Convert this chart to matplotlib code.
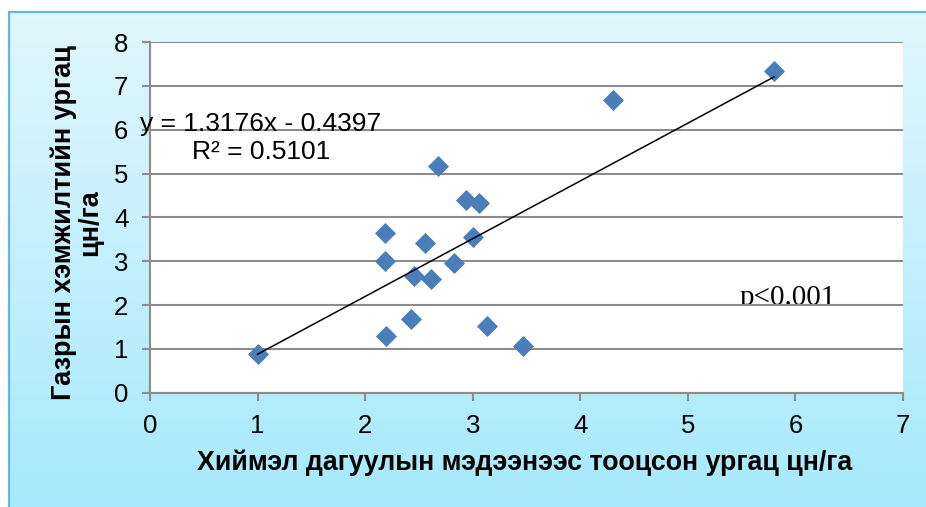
import numpy as np
import matplotlib
matplotlib.use("Agg")
import matplotlib.pyplot as plt
from matplotlib.lines import Line2D
from matplotlib.transforms import Bbox, TransformedBbox

plt.rcParams["font.family"] = ["Liberation Sans", "DejaVu Sans"]

# satellite-based yield vs field-measured yield (цн/га)
sat_yield = [1.00, 2.18, 2.18, 2.19, 2.43, 2.45, 2.56, 2.61, 2.68, 2.83,
             2.94, 3.06, 3.00, 3.13, 3.47, 4.30, 5.80]
field_yield = [0.88, 3.65, 3.01, 1.30, 1.68, 2.67, 3.42, 2.60, 5.18, 2.95,
               4.40, 4.33, 3.56, 1.52, 1.07, 6.68, 7.34]
slope, intercept = 1.3176, -0.4397
eq_text = "y = 1.3176x - 0.4397"
r2_text = "R² = 0.5101"
p_text = "p<0.001"
x_ticks = [0, 1, 2, 3, 4, 5, 6, 7]
y_ticks = [0, 1, 2, 3, 4, 5, 6, 7, 8]
xlabel = "Хиймэл дагуулын мэдээнээс тооцсон ургац цн/га"
ylabel = "Газрын хэмжилтийн ургац\nцн/га"

W, H = 926, 507
fig = plt.figure(figsize=(W / 100, H / 100), dpi=100)
fig.patch.set_facecolor("white")

# light blue gradient frame behind the chart (runs off the right and bottom edges)
fx0, fy0 = 9 / W, 1 - 12 / H
bg = fig.add_axes([fx0, 0, 1 - fx0, fy0], zorder=-1)
bg.axis("off")
grad = np.linspace(0, 1, 256).reshape(-1, 1)
top = np.array([0.882, 0.965, 0.992])
bot = np.array([0.655, 0.914, 0.992])
img = top + (bot - top) * grad[:, :, None]
bg.imshow(img, extent=[0, 1, 0, 1], aspect="auto", origin="upper")
bg.set_xlim(0, 1)
bg.set_ylim(0, 1)
fig.add_artist(Line2D([fx0, fx0, 1], [0, fy0, fy0], transform=fig.transFigure,
                      color="#5bbcd4", lw=1.6))

ax = fig.add_axes([150 / W, 1 - 392.7 / H, 753 / W, 350.7 / H])
ax.set_facecolor("white")
ax.set_xlim(0, 7)
ax.set_ylim(0, 8)
ax.set_xticks(x_ticks)
ax.set_yticks(y_ticks)
ax.set_axisbelow(True)
ax.grid(axis="y", color="#8c8c8c", lw=1.5)
for s in ["top", "right"]:
    ax.spines[s].set_visible(False)
for s in ["left", "bottom"]:
    ax.spines[s].set_color("#8c8c8c")
    ax.spines[s].set_linewidth(1.5)
ax.tick_params(axis="both", colors="#8c8c8c", labelcolor="black", width=1.5,
               length=5.5, labelsize=18.5)
ax.tick_params(axis="x", pad=10)
ax.tick_params(axis="y", pad=10)

ax.scatter(sat_yield, field_yield, marker="D", s=115, color="#4a7ebb", zorder=3,
           linewidths=0)
xs = np.array([min(sat_yield), max(sat_yield)])
ax.plot(xs, slope * xs + intercept, color="black", lw=1.1, zorder=4)

ax.text(1.03, 6.13, eq_text, ha="center", va="center", fontsize=19, zorder=5)
ax.text(1.03, 5.49, r2_text, ha="center", va="center", fontsize=19, zorder=5)

pt = ax.text(5.48, 2.0, p_text, ha="left", va="baseline", fontsize=21,
             family="Liberation Serif", zorder=0.4)
pt.set_clip_box(TransformedBbox(Bbox([[0, 2.0], [7, 8]]), ax.transData))
pt.set_clip_on(True)

fig.text(525 / W, 1 - 463 / H, xlabel, ha="center", va="center",
         fontsize=19.3, fontweight="bold")
fig.text(77 / W, 1 - 223 / H, ylabel, ha="center", va="center", rotation=90,
         fontsize=19.5, fontweight="bold", linespacing=1.0, multialignment="center")

fig.savefig("out.png", dpi=100)
